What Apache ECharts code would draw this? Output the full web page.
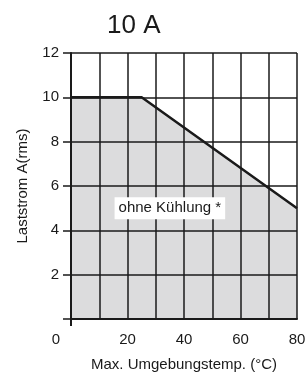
<!DOCTYPE html>
<html>
<head>
<meta charset="utf-8">
<script src="https://cdn.jsdelivr.net/npm/echarts@6/dist/echarts.min.js"></script>
<style>
  html, body { margin: 0; padding: 0; background: #fff; }
  #chart { width: 307px; height: 374px; }
</style>
</head>
<body>
<div id="chart"></div>
<script>
// derating curve: temperature (°C) vs load current (A rms)
const temps = [0, 25, 80]
const current = [10, 10, 5]
const xTickLabels = [0, 20, 40, 60, 80]
const areaLabel = 'ohne Kühlung *'
const labelAt = [35, 5]

const font = 'Liberation Sans'
const ink = '#1a1a1a'

let points = temps.map((t, i) => [t, current[i]])

let chart = echarts.init(document.getElementById('chart'))
chart.setOption({
  animation: false,
  title: {
    text: '10 A',
    left: 102,
    top: 8,
    textStyle: { fontFamily: font, fontSize: 26, fontWeight: 'normal', color: ink }
  },
  grid: { left: 71, right: 10, top: 53, bottom: 55, outerBoundsMode: 'none' },
  xAxis: [
    {
      type: 'value',
      min: 0,
      max: 80,
      interval: 10,
      name: 'Max. Umgebungstemp. (°C)',
      nameLocation: 'middle',
      nameGap: 38,
      nameTextStyle: { fontFamily: font, fontSize: 15, color: ink },
      axisLine: { lineStyle: { color: ink, width: 2 } },
      axisTick: { show: false },
      axisLabel: {
        customValues: xTickLabels,
        margin: 13,
        fontFamily: font,
        fontSize: 15,
        color: ink,
        formatter: v => (v === 0 ? '{z|0}' : String(v)),
        rich: { z: { padding: [0, 30, 0, 0], fontFamily: font, fontSize: 15, color: ink } }
      },
      splitLine: { show: true, lineStyle: { color: ink, width: 1.5 } }
    },
    {
      // only the tick under the origin
      type: 'value',
      min: 0,
      max: 80,
      position: 'bottom',
      axisLine: { show: false },
      axisTick: { show: true, customValues: [0], length: 7, lineStyle: { color: ink, width: 2 } },
      axisLabel: { show: false },
      splitLine: { show: false }
    }
  ],
  yAxis: {
    type: 'value',
    min: 0,
    max: 12,
    interval: 2,
    name: 'Laststrom A(rms)',
    nameLocation: 'middle',
    nameGap: 41,
    nameTextStyle: { fontFamily: font, fontSize: 15, color: ink },
    axisLine: { show: true, lineStyle: { color: ink, width: 2 } },
    axisTick: { show: true, length: 8, lineStyle: { color: ink, width: 1.5 } },
    axisLabel: {
      margin: 12,
      fontFamily: font,
      fontSize: 15,
      color: ink,
      formatter: v => (v === 0 ? '' : String(v))
    },
    splitLine: { show: true, lineStyle: { color: ink, width: 1.5 } }
  },
  series: [
    {
      // grey area sits beneath the grid lines
      type: 'line',
      data: points,
      symbol: 'none',
      lineStyle: { width: 0 },
      areaStyle: { color: '#dcdcdd', opacity: 1 },
      z: -1
    },
    {
      type: 'line',
      data: points,
      symbol: 'none',
      lineStyle: { color: ink, width: 2.5 },
      z: 3,
      markPoint: {
        symbolSize: 0,
        data: [{ coord: labelAt }],
        label: {
          show: true,
          formatter: areaLabel,
          fontFamily: font,
          fontSize: 15,
          color: ink,
          backgroundColor: '#fff',
          padding: [4, 4, 3, 4]
        }
      }
    }
  ]
})
</script>
</body>
</html>
